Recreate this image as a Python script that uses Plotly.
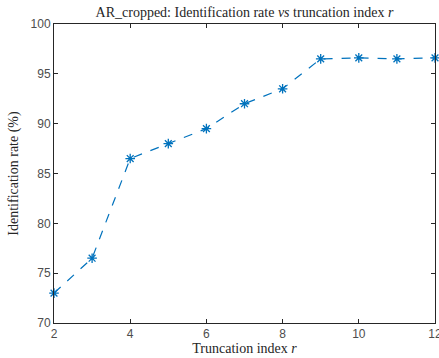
import plotly.graph_objects as go

# Identification rate for each truncation index
truncation_index = [2, 3, 4, 5, 6, 7, 8, 9, 10, 11, 12]
identification_rate = [73.0, 76.5, 86.5, 88.0, 89.5, 92.0, 93.5, 96.5, 96.6, 96.5, 96.6]

x_ticks = [2, 4, 6, 8, 10, 12]
y_ticks = [70, 75, 80, 85, 90, 95, 100]

line_color = "#0072BD"
axis_color = "#262626"
tick_font = dict(family="Liberation Sans, Arial, sans-serif", size=12, color="#4d4d4d")
serif = "Liberation Serif, DejaVu Serif, serif"

fig = go.Figure()
fig.add_trace(go.Scatter(
    x=truncation_index,
    y=identification_rate,
    mode="lines+markers",
    line=dict(color=line_color, width=1.2, dash="dash"),
    marker=dict(symbol="asterisk-open", size=8, color=line_color,
                line=dict(color=line_color, width=1.3)),
    showlegend=False,
    cliponaxis=False,
))

axis_common = dict(
    showline=True, linecolor=axis_color, linewidth=1, mirror="ticks",
    ticks="inside", ticklen=4, tickcolor=axis_color, tickwidth=1,
    showgrid=False, zeroline=False, tickfont=tick_font,
    ticklabeloverflow="allow", automargin=False,
)

fig.update_layout(
    width=439, height=358,
    margin=dict(l=54, r=4, t=24, b=35),
    plot_bgcolor="white", paper_bgcolor="white",
    title=dict(
        text="AR_cropped: Identification rate <i>vs</i> truncation index <i>r</i>",
        font=dict(family=serif, size=14, color="#262626"),
        x=(54 + 435) / 2 / 439, xanchor="center", y=1 - 12 / 358, yanchor="middle",
    ),
    xaxis=dict(
        range=[2, 12], tickvals=x_ticks,
        title=dict(text="Truncation index <i>r</i>",
                   font=dict(family=serif, size=14, color="#262626"), standoff=2),
        **axis_common,
    ),
    yaxis=dict(
        range=[70, 100], tickvals=y_ticks,
        title=dict(text="Identification rate (%)",
                   font=dict(family=serif, size=14, color="#262626"), standoff=8),
        **axis_common,
    ),
)

fig.write_html("out.html")
